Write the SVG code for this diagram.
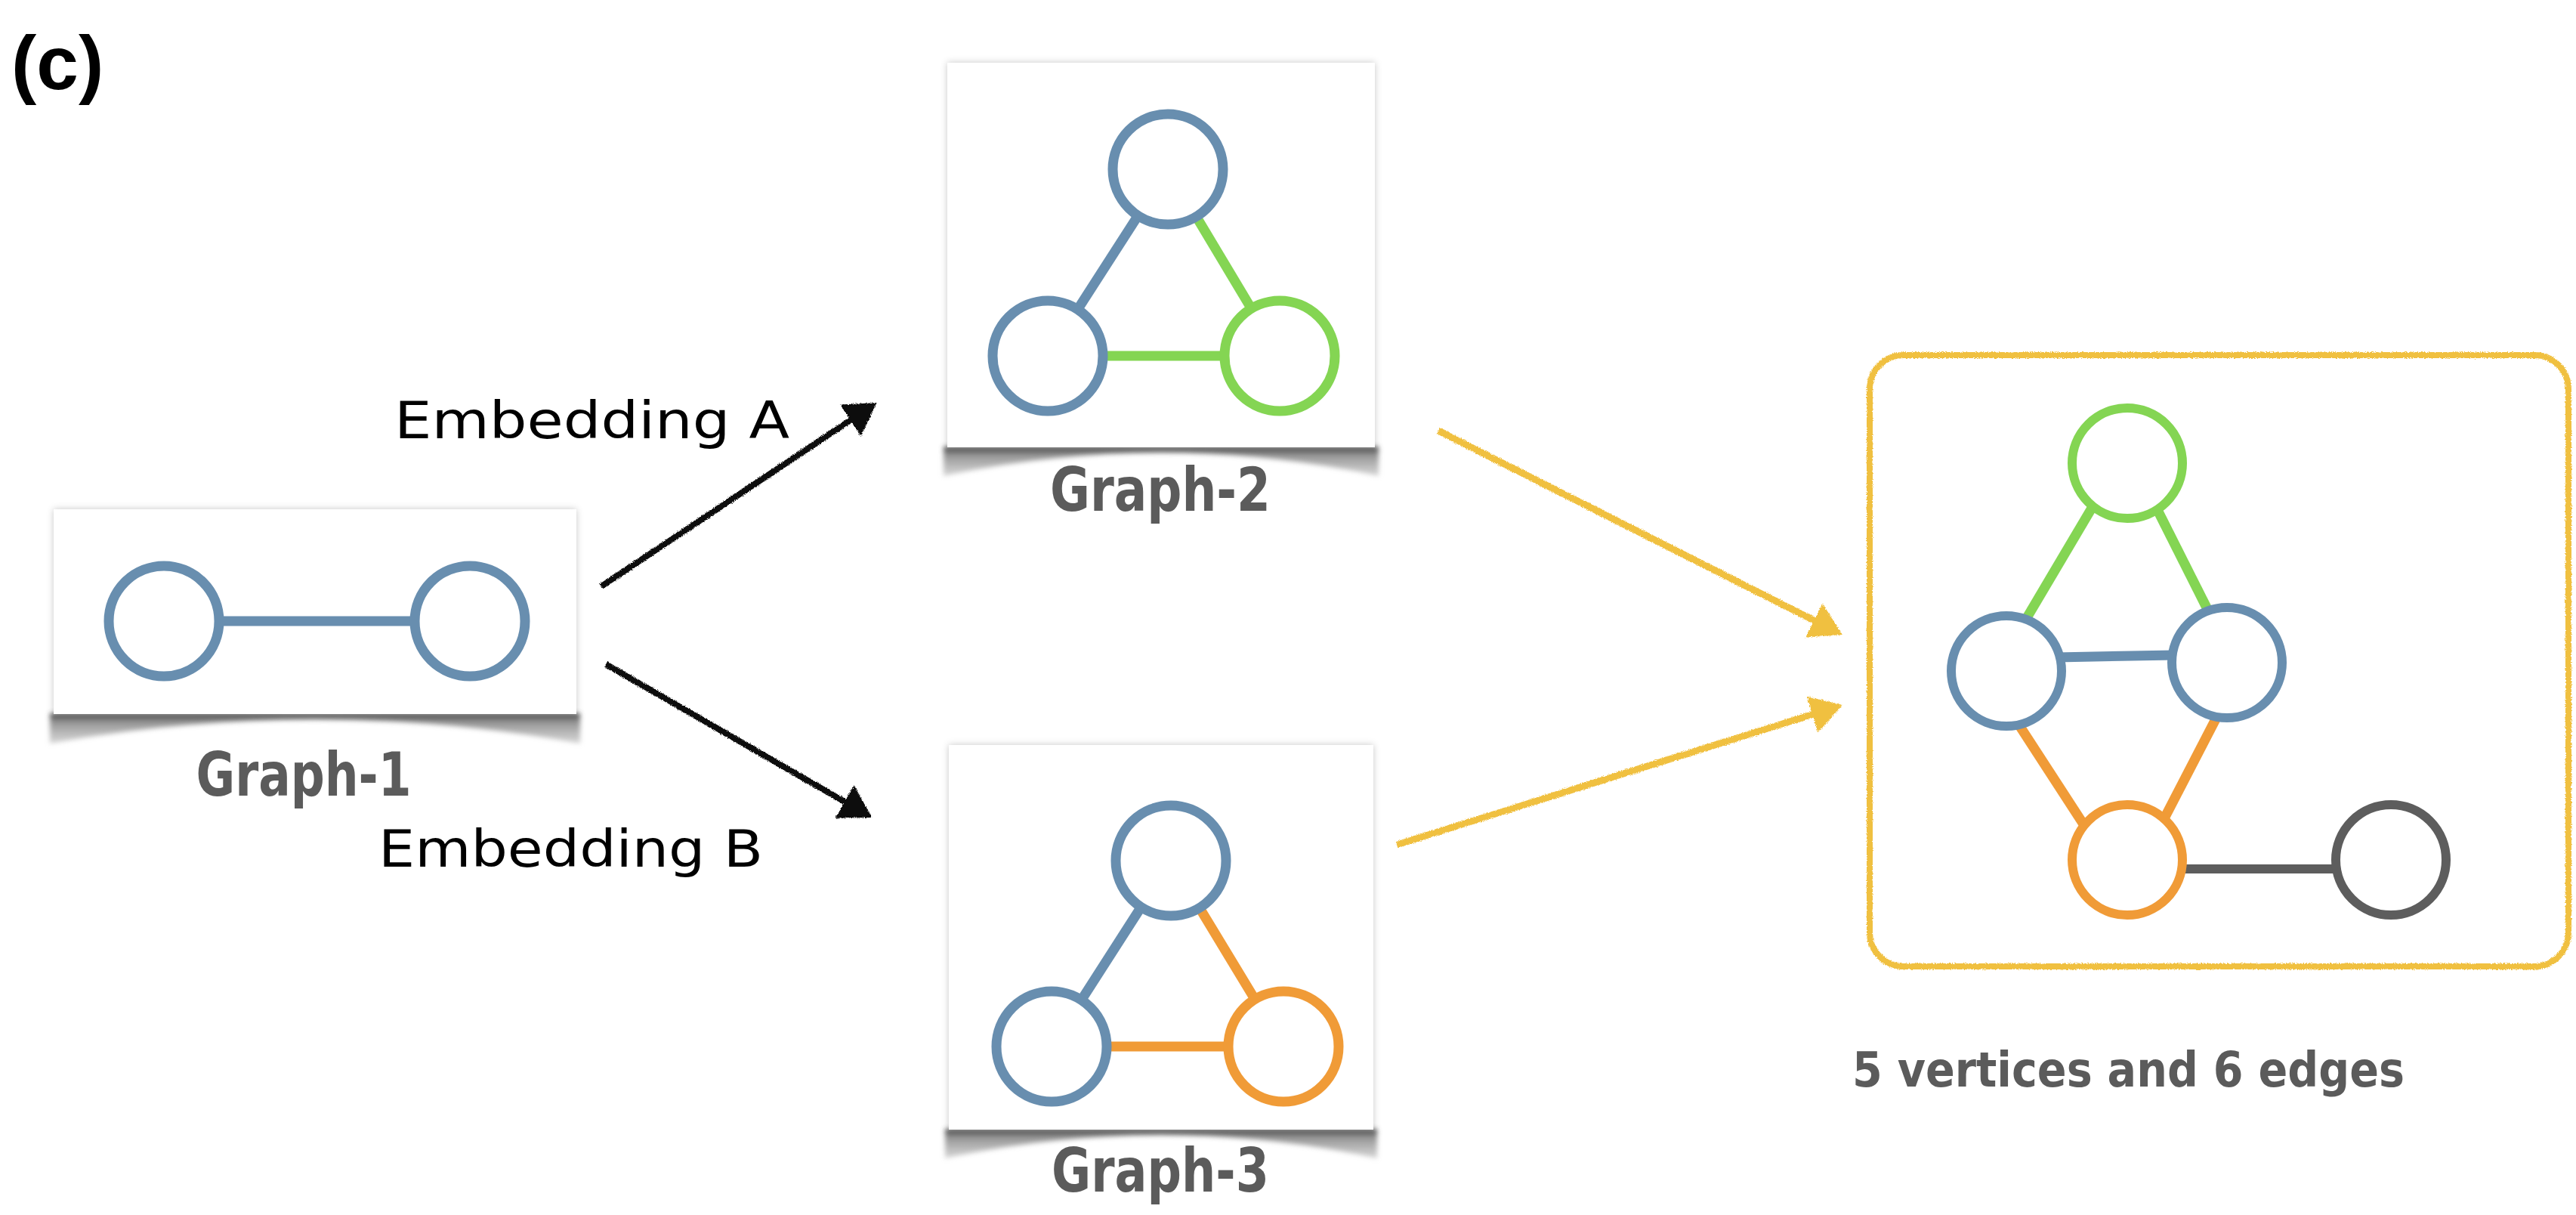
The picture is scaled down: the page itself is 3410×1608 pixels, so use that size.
<svg xmlns="http://www.w3.org/2000/svg" width="3410" height="1608" viewBox="0 0 3410 1608">
<style>
.card{fill:#ffffff;}
.curl{fill:url(#curlGrad);filter:url(#blur3);}
.lbl{font-family:"Comic Sans MS","Chalkboard","DejaVu Sans",sans-serif;font-weight:bold;fill:#5b5b5b;}
.emb{font-family:"DejaVu Sans","Liberation Sans",sans-serif;fill:#000000;}
.nb{fill:#ffffff;stroke:#688eaf;stroke-width:13;}
.ng{fill:#ffffff;stroke:#84d553;stroke-width:13;}
.no{fill:#ffffff;stroke:#f09b37;stroke-width:13;}
.nk{fill:#ffffff;stroke:#5d5d5d;stroke-width:12;}
.eb{stroke:#688eaf;stroke-width:13;fill:none;}
.eg{stroke:#84d553;stroke-width:13;fill:none;}
.eo{stroke:#f09b37;stroke-width:13;fill:none;}
.ek{stroke:#5d5d5d;stroke-width:12;fill:none;}
.ablack{stroke:#111111;stroke-width:8;fill:none;marker-end:url(#headBlack);}
.ayellow{stroke:#f0c040;stroke-width:9;fill:none;marker-end:url(#headYellow);}
</style>
<defs>
<linearGradient id="curlGrad" x1="0" y1="0" x2="0" y2="1">
<stop offset="0" stop-color="#3a3a3a" stop-opacity="0.95"/>
<stop offset="0.3" stop-color="#7a7a7a" stop-opacity="0.8"/>
<stop offset="1" stop-color="#b4b4b4" stop-opacity="0.55"/>
</linearGradient>
<filter id="blur3" x="-5%" y="-50%" width="110%" height="200%">
<feGaussianBlur stdDeviation="3"/>
</filter>
<filter id="cardShadow" x="-5%" y="-5%" width="110%" height="110%">
<feGaussianBlur in="SourceAlpha" stdDeviation="5" result="b"/>
<feFlood flood-color="#000000" flood-opacity="0.22"/>
<feComposite in2="b" operator="in" result="s"/>
<feMerge><feMergeNode in="s"/><feMergeNode in="SourceGraphic"/></feMerge>
</filter>
<filter id="rough" filterUnits="userSpaceOnUse" x="0" y="0" width="3410" height="1608">
<feTurbulence type="fractalNoise" baseFrequency="0.9" numOctaves="2" seed="3" result="n"/>
<feDisplacementMap in="SourceGraphic" in2="n" scale="4" xChannelSelector="R" yChannelSelector="G"/>
</filter>
<marker id="headBlack" viewBox="0 0 42 50" refX="22" refY="25" markerWidth="42" markerHeight="50" markerUnits="userSpaceOnUse" orient="auto">
<path d="M0,0 L42,25 L0,50 Z" fill="#111111"/>
</marker>
<marker id="headYellow" viewBox="0 0 42 50" refX="22" refY="25" markerWidth="42" markerHeight="50" markerUnits="userSpaceOnUse" orient="auto">
<path d="M0,0 L42,25 L0,50 Z" fill="#f0c040"/>
</marker>
</defs>
<rect x="0" y="0" width="3410" height="1608" fill="#ffffff"/>

<g id="panel-label">
<text x="15" y="118" font-family="'Liberation Sans',Arial,sans-serif" font-weight="bold" font-size="100" fill="#000000">(c)</text>
</g>

<g id="graph-1">
<path class="curl" d="M66,944 L768,944 L768,984 Q417,920 66,984 Z"/>
<rect class="card" x="71" y="674" width="692" height="271" filter="url(#cardShadow)"/>
<line class="eb" x1="290" y1="822" x2="549" y2="822"/>
<circle class="nb" cx="217" cy="822" r="73"/>
<circle class="nb" cx="622" cy="822" r="73"/>
<text class="lbl" x="402" y="1053" font-size="80" text-anchor="middle" textLength="285" lengthAdjust="spacingAndGlyphs">Graph-1</text>
</g>

<g id="graph-2">
<path class="curl" d="M1249,591 L1825,591 L1825,630 Q1537,568 1249,630 Z"/>
<rect class="card" x="1254" y="83" width="566" height="509" filter="url(#cardShadow)"/>
<line class="eb" x1="1546" y1="224" x2="1387" y2="471"/>
<line class="eg" x1="1546" y1="224" x2="1694" y2="471"/>
<line class="eg" x1="1387" y1="471" x2="1694" y2="471"/>
<circle class="nb" cx="1546" cy="224" r="73"/>
<circle class="nb" cx="1387" cy="471" r="73"/>
<circle class="ng" cx="1694" cy="471" r="73"/>
<text class="lbl" x="1536" y="676" font-size="80" text-anchor="middle" textLength="292" lengthAdjust="spacingAndGlyphs">Graph-2</text>
</g>

<g id="graph-3">
<path class="curl" d="M1251,1494 L1823,1494 L1823,1533 Q1537,1471 1251,1533 Z"/>
<rect class="card" x="1256" y="986" width="562" height="509" filter="url(#cardShadow)"/>
<line class="eb" x1="1550" y1="1139" x2="1392" y2="1385"/>
<line class="eo" x1="1550" y1="1139" x2="1699" y2="1385"/>
<line class="eo" x1="1392" y1="1385" x2="1699" y2="1385"/>
<circle class="nb" cx="1550" cy="1139" r="73"/>
<circle class="nb" cx="1392" cy="1385" r="73"/>
<circle class="no" cx="1699" cy="1385" r="73"/>
<text class="lbl" x="1536" y="1577" font-size="80" text-anchor="middle" textLength="288" lengthAdjust="spacingAndGlyphs">Graph-3</text>
</g>

<g id="merged-graph">
<rect x="2475" y="470" width="925" height="809" rx="45" ry="45" fill="none" stroke="#f0c040" stroke-width="8" filter="url(#rough)"/>
<line class="eg" x1="2771" y1="669" x2="2681" y2="821"/>
<line class="eg" x1="2855" y1="673" x2="2925" y2="812"/>
<line class="eb" x1="2722" y1="870" x2="2878" y2="867"/>
<line class="eo" x1="2673" y1="960" x2="2762" y2="1097"/>
<line class="eo" x1="2936" y1="946" x2="2863" y2="1087"/>
<line class="ek" x1="2887" y1="1150" x2="3096" y2="1150"/>
<circle class="ng" cx="2816" cy="613" r="73" style="stroke-width:12"/>
<circle class="nb" cx="2656" cy="888" r="73" style="stroke-width:12"/>
<circle class="nb" cx="2948" cy="877" r="73" style="stroke-width:12"/>
<circle class="no" cx="2816" cy="1138" r="73" style="stroke-width:12"/>
<circle class="nk" cx="3165" cy="1138" r="73"/>
<text class="lbl" x="2452" y="1438" font-size="64" textLength="731" lengthAdjust="spacingAndGlyphs">5 vertices and 6 edges</text>
</g>

<g id="connectors" filter="url(#rough)">
<line class="ablack" x1="796" y1="776" x2="1144" y2="544"/>
<line class="ablack" x1="802" y1="879" x2="1137" y2="1072"/>
<line class="ayellow" x1="1904" y1="570" x2="2421" y2="831"/>
<line class="ayellow" x1="1849" y1="1118" x2="2420" y2="939"/>
</g>

<g id="edge-labels">
<text class="emb" x="522" y="580" font-size="68" textLength="523" lengthAdjust="spacingAndGlyphs">Embedding A</text>
<text class="emb" x="501" y="1147" font-size="68" textLength="509" lengthAdjust="spacingAndGlyphs">Embedding B</text>
</g>
</svg>
